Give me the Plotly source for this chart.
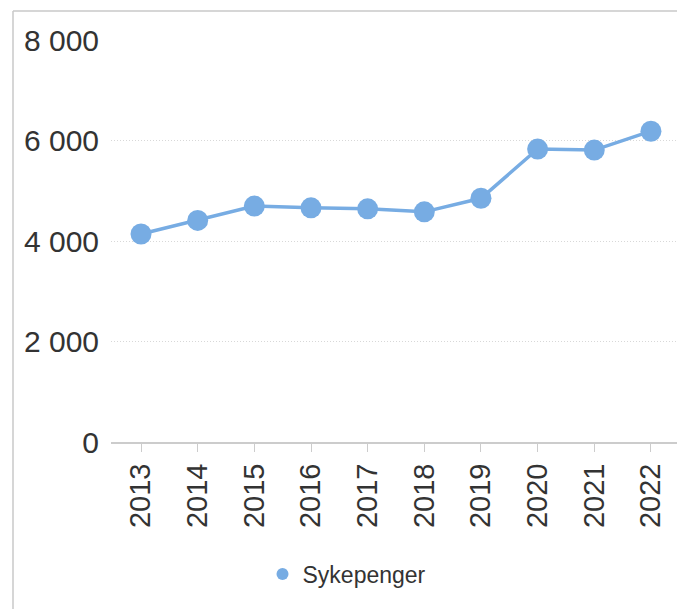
import plotly.graph_objects as go

years = ["2013", "2014", "2015", "2016", "2017", "2018", "2019", "2020", "2021", "2022"]
sykepenger = [4140, 4410, 4695, 4660, 4640, 4580, 4850, 5830, 5810, 6185]
y_ticks = [0, 2000, 4000, 6000, 8000]
y_tick_labels = ["0", "2 000", "4 000", "6 000", "8 000"]

color = "#77ace3"

fig = go.Figure()
fig.add_trace(go.Scatter(
    x=years, y=sykepenger, name="Sykepenger", mode="lines+markers",
    line=dict(color=color, width=3.5),
    marker=dict(color=color, size=21),
    showlegend=False,
))
fig.add_trace(go.Scatter(
    x=[None], y=[None], name="Sykepenger", mode="markers",
    marker=dict(color=color, size=18),
    showlegend=True,
))

H = 403.0
W = 566.0
fig.update_layout(
    width=677, height=609,
    margin=dict(l=111, r=0, t=39, b=167),
    paper_bgcolor="white", plot_bgcolor="white",
    font=dict(family="Liberation Sans, Arial, sans-serif", color="#333333"),
    showlegend=True,
    legend=dict(orientation="h", x=0.417, xanchor="center", y=(442 - 574) / H, yanchor="middle",
                font=dict(size=23, color="#333333"), itemsizing="constant"),
    xaxis=dict(
        type="category", tickangle=-90, tickfont=dict(size=29, color="#333333"),
        showline=True, linecolor="#cccccc", linewidth=2,
        ticks="outside", ticklen=8, tickcolor="#cccccc", tickwidth=1,
        showgrid=False, range=[-0.53, 9.46],
    ),
    yaxis=dict(
        range=[0, 8020], tickvals=y_ticks, ticktext=y_tick_labels,
        tickfont=dict(size=30, color="#333333"),
        showgrid=True, gridcolor="#d8d8d8", griddash="1px,2px", gridwidth=1,
        zeroline=False, showline=False, ticks="", ticklabelstandoff=11,
    ),
    shapes=[
        dict(type="line", xref="paper", yref="paper", x0=-98 / W, x1=-98 / W,
             y0=(442 - 11) / H, y1=(442 - 612) / H, line=dict(color="#c8c8c8", width=1.5)),
        dict(type="line", xref="paper", yref="paper", x0=-98 / W, x1=1.0,
             y0=(442 - 11) / H, y1=(442 - 11) / H, line=dict(color="#c8c8c8", width=1.5)),
    ],
)

fig.write_html("out.html", config={"displayModeBar": False},
               post_script="document.body.style.margin='0';document.body.style.overflow='hidden';")
